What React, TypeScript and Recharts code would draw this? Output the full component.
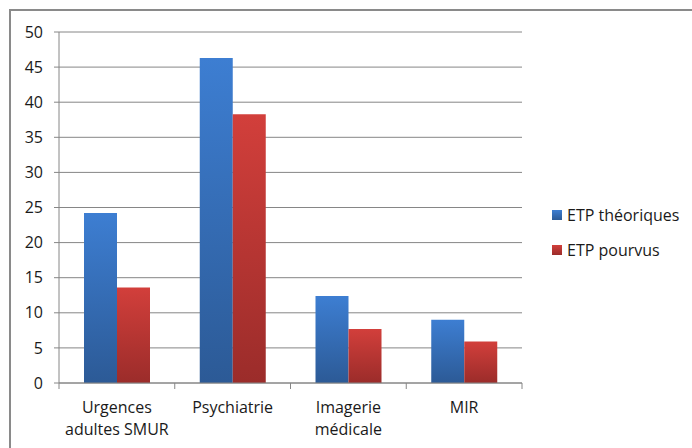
import { Bar, BarChart, CartesianGrid, XAxis, YAxis } from 'recharts';

const categories = ['Urgences adultes SMUR', 'Psychiatrie', 'Imagerie médicale', 'MIR'];
const categoryLines = [['Urgences', 'adultes SMUR'], ['Psychiatrie'], ['Imagerie', 'médicale'], ['MIR']];
const etpTheoriques = [24.2, 46.3, 12.4, 9.0];
const etpPourvus = [13.6, 38.3, 7.7, 5.9];
const yTicks = [0, 5, 10, 15, 20, 25, 30, 35, 40, 45, 50];

const WIDTH = 692;
const HEIGHT = 448;
const X_AXIS_HEIGHT = 30;
const MARGIN = { top: 32, right: 170, bottom: 65 - X_AXIS_HEIGHT, left: 0 };
const Y_AXIS_WIDTH = 59;
const BAND = (WIDTH - MARGIN.left - MARGIN.right - Y_AXIS_WIDTH) / categories.length;

const FONT = '"Open Sans", Lato, sans-serif';
const FONT_SIZE = 16;
const AXIS_GREY = '#868686';

const data = categories.map((name, i) => ({
  name,
  theoriques: etpTheoriques[i],
  pourvus: etpPourvus[i],
}));

const series = [
  { key: 'theoriques', label: 'ETP théoriques', grad: 'gradBlue' },
  { key: 'pourvus', label: 'ETP pourvus', grad: 'gradRed' },
];

function CategoryTick({ x, y, index }: { x: number; y: number; index: number }) {
  const lines = categoryLines[index] ?? [];
  return (
    <g>
      <line x1={x - BAND / 2} x2={x - BAND / 2} y1={y} y2={y + 6} stroke={AXIS_GREY} />
      {index === categories.length - 1 && (
        <line x1={x + BAND / 2} x2={x + BAND / 2} y1={y} y2={y + 6} stroke={AXIS_GREY} />
      )}
      {lines.map((line, i) => (
        <text
          key={line}
          x={x}
          y={y + 30 + i * 22}
          textAnchor="middle"
          fill="#1a1a1a"
          fontSize={FONT_SIZE}
          fontFamily={FONT}
        >
          {line}
        </text>
      ))}
    </g>
  );
}

// legend sits to the right of the plot, outside the chart's layout
function ChartLegend() {
  return (
    <div
      style={{
        position: 'absolute',
        left: 552,
        top: 197,
        fontFamily: FONT,
        fontSize: FONT_SIZE,
        color: '#1a1a1a',
      }}
    >
      {series.map((s) => (
        <div key={s.key} style={{ display: 'flex', alignItems: 'center', height: 35, whiteSpace: 'nowrap' }}>
          <svg width={10} height={10} style={{ marginRight: 5 }}>
            <rect width={10} height={10} fill={`url(#${s.grad})`} />
          </svg>
          {s.label}
        </div>
      ))}
    </div>
  );
}

export default function App() {
  return (
    <div
      style={{
        position: 'absolute',
        left: 0,
        top: 0,
        width: WIDTH,
        height: HEIGHT,
        background: '#fff',
        overflow: 'hidden',
      }}
    >
      <div
        style={{
          position: 'absolute',
          left: 9,
          top: 9,
          width: 720,
          height: 480,
          border: '2px solid #8a8a8a',
          boxSizing: 'border-box',
        }}
      />
      <BarChart
        width={WIDTH}
        height={HEIGHT}
        data={data}
        margin={MARGIN}
        barCategoryGap="21.6%"
        barGap={0}
        style={{ position: 'absolute', left: 0, top: 0 }}
      >
        <defs>
          <linearGradient id="gradBlue" x1="0" y1="0" x2="0" y2="1">
            <stop offset="0%" stopColor="#3d7ed2" />
            <stop offset="100%" stopColor="#2c5a96" />
          </linearGradient>
          <linearGradient id="gradRed" x1="0" y1="0" x2="0" y2="1">
            <stop offset="0%" stopColor="#d23f3b" />
            <stop offset="100%" stopColor="#9b2c2a" />
          </linearGradient>
        </defs>
        <CartesianGrid vertical={false} stroke={AXIS_GREY} />
        <XAxis
          dataKey="name"
          height={X_AXIS_HEIGHT}
          interval={0}
          stroke={AXIS_GREY}
          tickLine={false}
          tickSize={0}
          tickMargin={0}
          tick={(props: any) => <CategoryTick x={props.x} y={props.y} index={props.index} />}
        />
        <YAxis
          width={Y_AXIS_WIDTH}
          domain={[0, 50]}
          ticks={yTicks}
          interval={0}
          stroke={AXIS_GREY}
          tickSize={5}
          tickMargin={11}
          tick={{ fill: '#1a1a1a', fontSize: FONT_SIZE, fontFamily: FONT }}
        />
        {series.map((s) => (
          <Bar key={s.key} dataKey={s.key} name={s.label} fill={`url(#${s.grad})`} isAnimationActive={false} />
        ))}
      </BarChart>
      <ChartLegend />
    </div>
  );
}
